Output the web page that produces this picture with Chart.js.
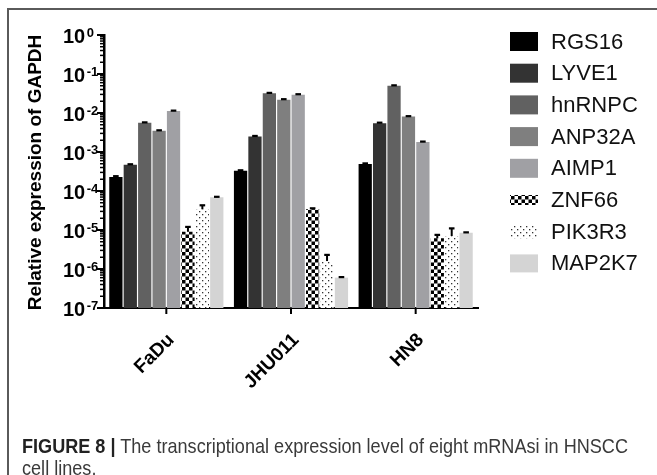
<!DOCTYPE html>
<html><head><meta charset="utf-8">
<script src="https://cdn.jsdelivr.net/npm/chart.js@4.4.1/dist/chart.umd.min.js"></script>
<style>
html,body{margin:0;padding:0;background:#fff;}
#wrap{position:relative;width:657px;height:475px;overflow:hidden;background:#fff;}
#frame{position:absolute;left:7px;top:8px;width:700px;height:500px;border-top:2px solid #5a5a5a;border-left:2px solid #5a5a5a;}
canvas{position:absolute;left:0;top:0;}
.cap{position:absolute;left:22px;font-family:"Liberation Sans Narrow","Liberation Sans",Arial,sans-serif;font-size:21px;color:#3a3a3a;white-space:nowrap;transform-origin:0 50%;line-height:22px;}
.cap b{color:#222;}
</style></head>
<body><div id="wrap"><div id="frame"></div><canvas id="c" width="657" height="475"></canvas>
<div class="cap" id="cap1" style="top:435px"><b>FIGURE 8 |</b> The transcriptional expression level of eight mRNAsi in HNSCC</div>
<div class="cap" id="cap2" style="top:457px">cell lines.</div>
</div>
<script>
// ---- data ----
const cellLines = ['FaDu', 'JHU011', 'HN8'];
const genes = ['RGS16', 'LYVE1', 'hnRNPC', 'ANP32A', 'AIMP1', 'ZNF66', 'PIK3R3', 'MAP2K7'];
const RGS16  = [2.3e-4, 3.3e-4, 4.9e-4];
const LYVE1  = [4.7e-4, 2.5e-3, 5.5e-3];
const hnRNPC = [5.6e-3, 3.2e-2, 5.0e-2];
const ANP32A = [3.5e-3, 2.2e-2, 8.1e-3];
const AIMP1  = [1.12e-2, 2.95e-2, 1.8e-3];
const ZNF66  = [9.0e-6, 3.4e-5, 6.1e-6];
const PIK3R3 = [3.4e-5, 1.6e-6, 7.0e-6];
const MAP2K7 = [6.9e-5, 6.0e-7, 8.5e-6];
// error (SD) values
const RGS16_sd  = [0.1e-4, 0.1e-4, 0.2e-4];
const LYVE1_sd  = [0.15e-4, 0.8e-4, 1.5e-4];
const hnRNPC_sd = [1.5e-4, 0.8e-3, 1.2e-3];
const ANP32A_sd = [1.0e-4, 0.6e-3, 2.0e-4];
const AIMP1_sd  = [3.0e-4, 0.8e-3, 0.5e-4];
const ZNF66_sd  = [3.0e-6, 2.0e-6, 1.4e-6];
const PIK3R3_sd = [9.0e-6, 0.7e-6, 4.0e-6];
const MAP2K7_sd = [2.0e-6, 0.2e-7, 0.2e-6];
const yTickExponents = [0, -1, -2, -3, -4, -5, -6, -7];
const yTitle = 'Relative expression of GAPDH';

const values = [RGS16, LYVE1, hnRNPC, ANP32A, AIMP1, ZNF66, PIK3R3, MAP2K7];
const errors = [RGS16_sd, LYVE1_sd, hnRNPC_sd, ANP32A_sd, AIMP1_sd, ZNF66_sd, PIK3R3_sd, MAP2K7_sd];

const canvas = document.getElementById('c');
const ctx0 = canvas.getContext('2d');
function checkerPattern() {
  const c = document.createElement('canvas'); c.width = 7; c.height = 7;
  const g = c.getContext('2d');
  g.fillStyle = '#fff'; g.fillRect(0, 0, 7, 7);
  g.fillStyle = '#000'; g.fillRect(0, 0, 3.5, 3.5); g.fillRect(3.5, 3.5, 3.5, 3.5);
  return ctx0.createPattern(c, 'repeat');
}
function dotPattern() {
  const c = document.createElement('canvas'); c.width = 6; c.height = 6;
  const g = c.getContext('2d');
  g.fillStyle = '#fff'; g.fillRect(0, 0, 6, 6);
  g.fillStyle = '#333'; g.fillRect(1, 1, 1.3, 1.3); g.fillRect(4, 4, 1.3, 1.3);
  return ctx0.createPattern(c, 'repeat');
}
const fills = ['#000000', '#333333', '#616161', '#7f7f7f', '#a0a0a4', checkerPattern(), dotPattern(), '#d4d4d4'];

const datasets = genes.map((g, i) => ({
  label: g,
  data: values[i],
  backgroundColor: fills[i],
  borderWidth: 0,
  categoryPercentage: 0.925,
  barPercentage: 0.92
}));

const FONT = '"Liberation Sans", Arial, sans-serif';

const decor = {
  id: 'decor',
  afterDatasetsDraw(chart) {
    const ctx = chart.ctx;
    const ys = chart.scales.y;
    ctx.save();
    ctx.strokeStyle = '#000';
    chart.data.datasets.forEach((ds, di) => {
      const meta = chart.getDatasetMeta(di);
      meta.data.forEach((el, i) => {
        const top = ys.getPixelForValue(values[di][i] + errors[di][i]);
        const x = el.x;
        ctx.lineWidth = 2;
        ctx.beginPath();
        ctx.moveTo(x, el.y);
        ctx.lineTo(x, top);
        ctx.stroke();
        ctx.lineWidth = 2.2;
        ctx.beginPath();
        ctx.moveTo(x - 2.8, top);
        ctx.lineTo(x + 2.8, top);
        ctx.stroke();
      });
    });
    ctx.restore();
  },
  afterDraw(chart) {
    const ctx = chart.ctx;
    const ys = chart.scales.y, xs = chart.scales.x;
    const area = chart.chartArea;
    ctx.save();
    ctx.strokeStyle = '#000';
    // y ticks
    yTickExponents.forEach(e => {
      const y = ys.getPixelForValue(Math.pow(10, e));
      ctx.lineWidth = 2;
      ctx.beginPath(); ctx.moveTo(area.left - 7, y); ctx.lineTo(area.left, y); ctx.stroke();
      if (e < 0) {
        for (let m = 2; m <= 9; m++) {
          const ym = ys.getPixelForValue(m * Math.pow(10, e));
          ctx.lineWidth = 1.5;
          ctx.beginPath(); ctx.moveTo(area.left - 4, ym); ctx.lineTo(area.left, ym); ctx.stroke();
        }
      }
      ctx.fillStyle = '#000';
      ctx.font = 'bold 20px ' + FONT;
      ctx.textAlign = 'left';
      ctx.textBaseline = 'middle';
      ctx.fillText('10', 63, y + 2);
      const w = ctx.measureText('10').width;
      ctx.font = 'bold 13px ' + FONT;
      ctx.fillText(String(e), 63 + w + 1.5, y - 2);
    });
    // x ticks and labels
    cellLines.forEach((lab, i) => {
      const x = xs.getPixelForValue(i);
      ctx.lineWidth = 2;
      ctx.beginPath(); ctx.moveTo(x, area.bottom); ctx.lineTo(x, area.bottom + 6); ctx.stroke();
      ctx.save();
      ctx.translate(x + 5, area.bottom + 29);
      ctx.rotate(-Math.PI / 4);
      ctx.font = 'bold 19px ' + FONT;
      ctx.textAlign = 'right';
      ctx.textBaseline = 'middle';
      ctx.fillStyle = '#000';
      ctx.fillText(lab, 0, 0);
      ctx.restore();
    });
    // y title
    ctx.save();
    ctx.translate(36, (area.top + area.bottom) / 2 + 1);
    ctx.rotate(-Math.PI / 2);
    ctx.font = 'bold 19px ' + FONT;
    ctx.textAlign = 'center';
    ctx.textBaseline = 'middle';
    ctx.fillStyle = '#000';
    ctx.fillText(yTitle, 0, 0);
    ctx.restore();
    // legend
    const boxH = [19, 19, 19, 19, 19, 10, 13, 18];
    chart.data.datasets.forEach((ds, i) => {
      const cy = 41.5 + i * 31.7;
      const h = boxH[i];
      ctx.fillStyle = ds.backgroundColor;
      ctx.fillRect(510, cy - h / 2, 28, h);
      ctx.fillStyle = '#111';
      ctx.font = '22px ' + FONT;
      ctx.textAlign = 'left';
      ctx.textBaseline = 'middle';
      ctx.fillText(ds.label, 551, cy + 1);
    });
    ctx.restore();
  }
};

new Chart(canvas, {
  type: 'bar',
  data: { labels: cellLines, datasets },
  options: {
    responsive: false,
    animation: false,
    devicePixelRatio: 1,
    layout: { padding: { left: 104, top: 35, right: 179, bottom: 167 } },
    plugins: { legend: { display: false }, tooltip: { enabled: false } },
    scales: {
      x: {
        ticks: { display: false },
        grid: { display: false, drawTicks: false },
        border: { display: true, color: '#000', width: 2 }
      },
      y: {
        type: 'logarithmic',
        min: 1e-7,
        max: 1,
        ticks: { display: false },
        grid: { display: false, drawTicks: false },
        border: { display: true, color: '#000', width: 2.5 }
      }
    }
  },
  plugins: [decor]
});

// fit caption width
const cap1 = document.getElementById('cap1');
const w1 = cap1.getBoundingClientRect().width;
const s = 606 / w1;
cap1.style.transform = 'scaleX(' + s + ')';
document.getElementById('cap2').style.transform = 'scaleX(' + s + ')';
</script>
</body></html>
